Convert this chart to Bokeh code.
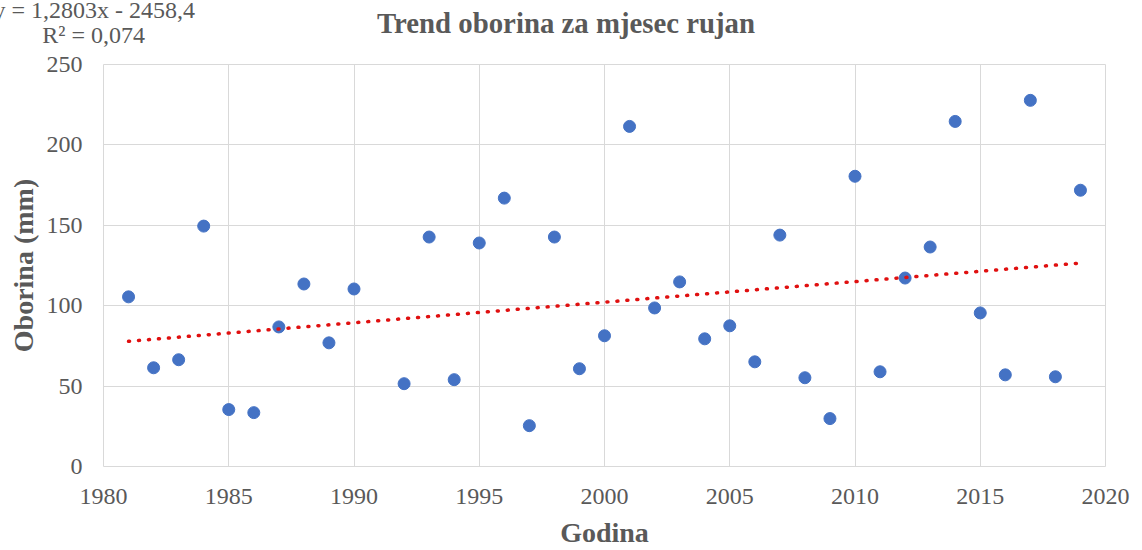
from bokeh.plotting import figure
from bokeh.models import FixedTicker, Range1d, Div
from bokeh.layouts import column
from bokeh.embed import file_html
from bokeh.resources import INLINE

# ---- data ----
years = [1981, 1982, 1983, 1984, 1985, 1986, 1987, 1988, 1989, 1990,
         1992, 1993, 1994, 1995, 1996, 1997, 1998, 1999, 2000, 2001,
         2002, 2003, 2004, 2005, 2006, 2007, 2008, 2009, 2010, 2011,
         2012, 2013, 2014, 2015, 2016, 2017, 2018, 2019]
precip = [105.5, 61.4, 66.4, 149.5, 35.4, 33.5, 86.8, 113.5, 76.9, 110.4,
          51.5, 142.7, 54.0, 139.0, 166.9, 25.4, 142.7, 60.8, 81.3, 211.5,
          98.6, 114.8, 79.4, 87.5, 65.1, 143.9, 55.2, 29.8, 180.5, 58.9,
          117.2, 136.5, 214.6, 95.5, 57.0, 227.7, 55.8, 171.8]
trend_slope = 1.2803
trend_intercept = -2458.4
trend_years = [1981, 2019]
x_ticks = [1980, 1985, 1990, 1995, 2000, 2005, 2010, 2015, 2020]
y_ticks = [0, 50, 100, 150, 200, 250]
title_text = "Trend oborina za mjesec rujan"
eq_text = "y = 1,2803x - 2458,4"
r2_text = "R² = 0,074"

FONT = "Liberation Serif"
TXT = "#595959"
GRID = "#d9d9d9"

HEAD_H = 46
W, H = 1142, 550

span = ("position:absolute;white-space:nowrap;line-height:1;"
        "font-family:'Liberation Serif';color:%s;" % TXT)
head_html = (
    '<div style="position:relative;width:%dpx;height:%dpx;overflow:visible;">' % (W, HEAD_H)
    + '<span style="%sleft:-105px;top:-2px;width:300px;text-align:right;font-size:24px;">%s</span>'
    % (span, eq_text)
    + '<span style="%sleft:-155px;top:23px;width:300px;text-align:right;font-size:24px;">%s</span>'
    % (span, r2_text)
    + '<span style="%sleft:266px;top:9px;width:600px;text-align:center;font-size:28.8px;'
      'font-weight:bold;">%s</span>' % (span, title_text)
    + '</div>'
)
head = Div(text=head_html, width=W, height=HEAD_H, margin=0, styles={"overflow": "visible"})

p = figure(width=W, height=H - HEAD_H, output_backend="svg", toolbar_location=None,
           x_range=Range1d(1980, 2020), y_range=Range1d(0, 250),
           min_border_left=103, min_border_right=37, min_border_top=18, min_border_bottom=83,
           outline_line_color=GRID, background_fill_color="white", border_fill_color="white")

p.xgrid.grid_line_color = GRID
p.ygrid.grid_line_color = GRID
p.xaxis.ticker = FixedTicker(ticks=x_ticks)
p.yaxis.ticker = FixedTicker(ticks=y_ticks)
for ax in (p.xaxis, p.yaxis):
    ax.axis_line_color = None
    ax.major_tick_line_color = None
    ax.minor_tick_line_color = None
    ax.major_tick_out = 0
    ax.minor_tick_out = 0
    ax.major_label_text_font = FONT
    ax.major_label_text_font_size = "24px"
    ax.major_label_text_color = TXT
    ax.axis_label_text_font = FONT
    ax.axis_label_text_font_size = "28px"
    ax.axis_label_text_font_style = "bold"
    ax.axis_label_text_color = TXT
p.xaxis.axis_label = "Godina"
p.yaxis.axis_label = "Oborina (mm)"
p.xaxis.major_label_standoff = 22
p.yaxis.major_label_standoff = 21
p.xaxis.axis_label_standoff = 10
p.yaxis.axis_label_standoff = 5

p.scatter(years, precip, size=12, color="#4472C4", line_color="#4472C4")

trend_vals = [trend_slope * x + trend_intercept for x in trend_years]
p.line(trend_years, trend_vals, line_color="#E01010", line_width=3.5,
       line_dash="1 9", line_cap="round")

layout = column(head, p, spacing=0)
open("out.html", "w").write(file_html(layout, INLINE))
